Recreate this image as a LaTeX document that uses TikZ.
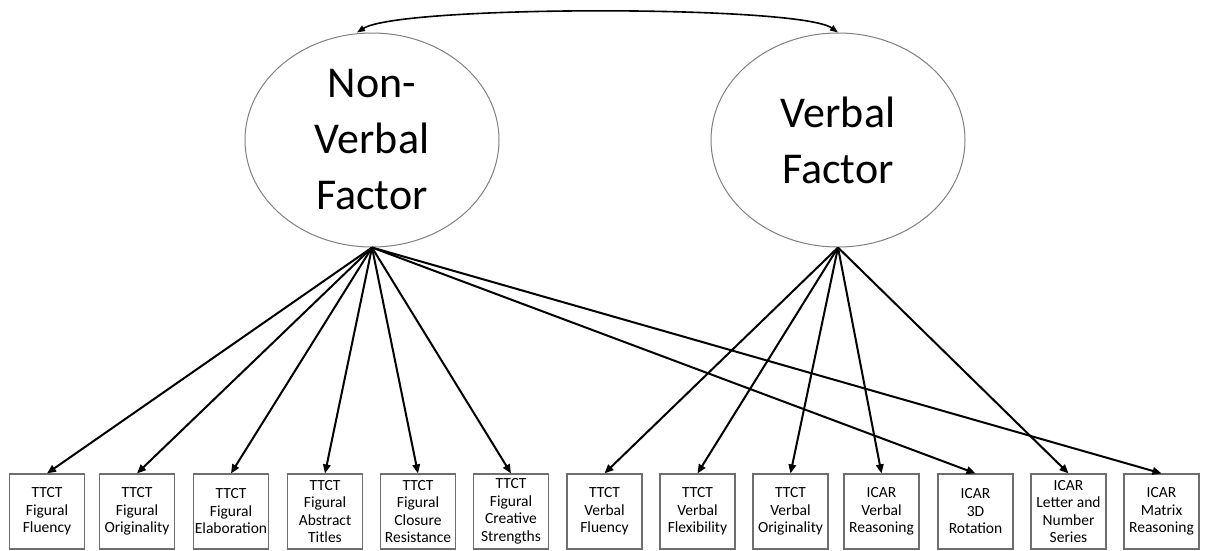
\documentclass[tikz,border=0pt]{standalone}
\usepackage{fontspec}
\setmainfont{Carlito}
\usetikzlibrary{shapes.geometric,arrows.meta}
\definecolor{ellgray}{HTML}{808080}
\definecolor{boxgray}{HTML}{6E6E6E}
\tikzset{
  factor/.style={ellipse, draw=ellgray, line width=1pt, minimum width=254pt, minimum height=214pt, inner sep=0pt},
  factortext/.style={align=center, font=\fontsize{44}{56}\selectfont, inner sep=0pt},
  indicator/.style={rectangle, draw=boxgray, line width=1.2pt, minimum width=75pt, minimum height=75pt, inner sep=1pt, align=center, font=\fontsize{15.5}{17.5}\selectfont},
  load/.style={line width=2pt, -{Triangle[length=9pt,width=7.5pt]}},
  cov/.style={line width=1.6pt, {Triangle[length=8pt,width=6pt]}-{Triangle[length=8pt,width=6pt]}}
}
\begin{document}
\begin{tikzpicture}[x=1pt,y=-1pt]
\useasboundingbox (0,0) rectangle (1207,550);
\node[factor] (nf) at (372,140) {};
\node[factortext] (nft) at (nf.center) {Non-\\Verbal\\Factor};
\node[factor] (vf) at (838,140) {};
\node[factortext] (vft) at (vf.center) {Verbal\\Factor};

\node[indicator] (b1) at (47,511.5) {TTCT\\Figural\\Fluency};
\node[indicator] (b2) at (137,511.5) {TTCT\\Figural\\Originality};
\node[indicator] (b3) at (231,511.5) {TTCT\\Figural\\Elaboration};
\node[indicator] (b4) at (325,511.5) {TTCT\\Figural\\Abstract\\Titles};
\node[indicator] (b5) at (418,511.5) {TTCT\\Figural\\Closure\\Resistance};
\node[indicator] (b6) at (511,511.5) {TTCT\\Figural\\Creative\\Strengths};
\node[indicator] (b7) at (604.5,511.5) {TTCT\\Verbal\\Fluency};
\node[indicator] (b8) at (697.5,511.5) {TTCT\\Verbal\\Flexibility};
\node[indicator] (b9) at (790.5,511.5) {TTCT\\Verbal\\Originality};
\node[indicator] (b10) at (881.5,511.5) {ICAR\\Verbal\\Reasoning};
\node[indicator] (b11) at (975.5,511.5) {ICAR\\3D\\Rotation};
\node[indicator] (b12) at (1068.5,511.5) {ICAR\\Letter and\\Number\\Series};
\node[indicator] (b13) at (1161.5,511.5) {ICAR\\Matrix\\Reasoning};

\foreach \b in {b1,b2,b3,b4,b5,b6,b11,b13}
  \draw[load] (nf.south) -- (\b.north);
\foreach \b in {b7,b8,b9,b10,b12}
  \draw[load] (vf.south) -- (\b.north);

\draw[cov] ([xshift=-15pt]nf.north) .. controls (400,5) and (800,5) .. (vf.north);
\end{tikzpicture}
\end{document}
